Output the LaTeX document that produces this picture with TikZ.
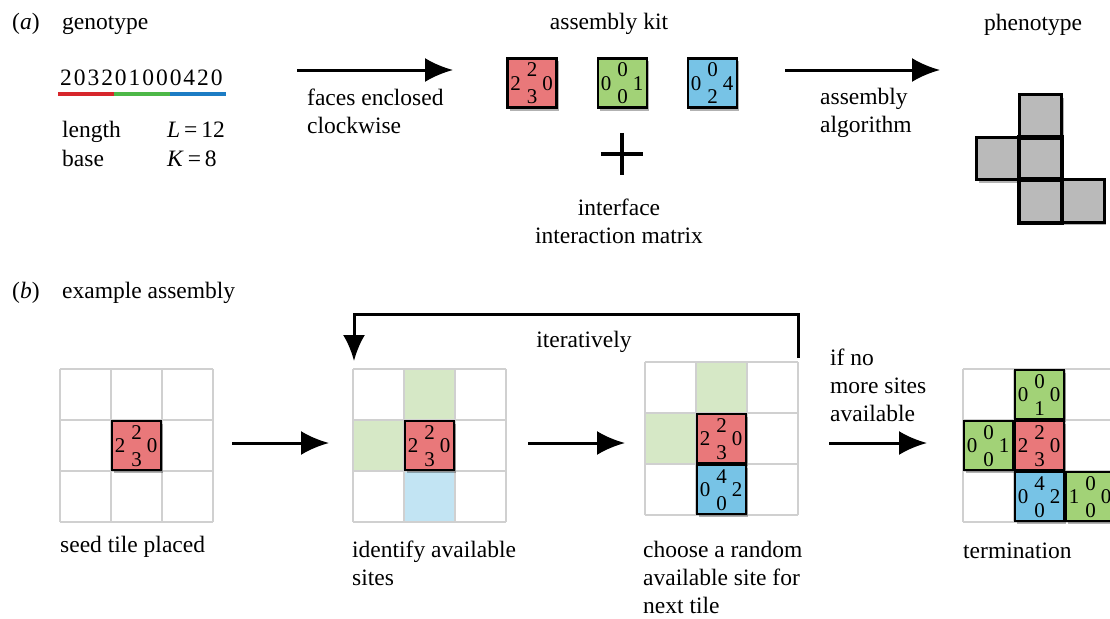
\documentclass[tikz,border=0pt]{standalone}
\usepackage{fontspec}
\setmainfont{Liberation Serif}
\usetikzlibrary{arrows.meta,shadows}
\definecolor{tred}{HTML}{E9787A}
\definecolor{tgreen}{HTML}{A2D277}
\definecolor{tblue}{HTML}{77C3E6}
\definecolor{lgreen}{HTML}{D6E8C6}
\definecolor{lblue}{HTML}{C2E4F3}
\definecolor{gline}{HTML}{D0D0D0}
\definecolor{pgray}{HTML}{BABABA}
\definecolor{lred}{HTML}{D7262B}
\definecolor{lgr}{HTML}{4DB848}
\definecolor{lbl}{HTML}{1C7CC4}
\newcommand\ml[1]{\begin{tabular}[t]{@{}l@{}}#1\end{tabular}}
\newcommand\mlc[1]{\begin{tabular}[t]{@{}c@{}}#1\end{tabular}}
\newcommand\dgt[1]{\makebox[13.7pt]{#1}}
\tikzset{
  txt/.style={inner sep=0pt, anchor=base west},
  ctxt/.style={inner sep=0pt, anchor=base},
  tilebox/.style={draw=black, line width=2.6pt, minimum size=49pt, inner sep=0pt,
    drop shadow={shadow xshift=2pt, shadow yshift=-3pt, opacity=0.3, fill=black}},
  pcell/.style={draw=black, line width=2.6pt, fill=pgray, minimum size=42.5pt, inner sep=0pt,
    drop shadow={shadow xshift=2pt, shadow yshift=-3pt, opacity=0.3, fill=black}},
  dg/.style={inner sep=0pt, font=\fontsize{21}{21}\selectfont},
  bigarrow/.style={line width=3pt, -{Latex[length=28pt,width=24pt]}},
  gridl/.style={draw=gline, line width=1.5pt},
}
% name, x, y, fill, top, left, right, bottom
\newcommand\tl[8]{%
  \node[tilebox, fill=#4] (#1) at (#2,#3) {};
  \node[dg] (#1-t) at ([yshift=13pt]#1.center) {#5};
  \node[dg] (#1-l) at ([xshift=-16.5pt,yshift=-0.5pt]#1.center) {#6};
  \node[dg] (#1-r) at ([xshift=15.5pt,yshift=-0.5pt]#1.center) {#7};
  \node[dg] (#1-b) at ([yshift=-14pt]#1.center) {#8};
}
\newcommand\gridat[2]{%
  \foreach \i in {0,1,2,3} {
    \draw[gridl] (#1+\i*51,#2) -- (#1+\i*51,#2+153);
    \draw[gridl] (#1,#2+\i*51) -- (#1+153,#2+\i*51);
  }
}
\begin{document}
\begin{tikzpicture}[x=1pt,y=-1pt,font=\fontsize{23.5}{28}\selectfont]
\clip (0,0) rectangle (1110,618);
\fill[white] (0,0) rectangle (1110,618);

% ---------- (a) ----------
\node[txt] (la) at (12,30) {(\textit{a})};
\node[txt] (geno) at (62,30) {genotype};
\node[txt] (digits) at (59,85) {\dgt2\dgt0\dgt3\dgt2\dgt0\dgt1\dgt0\dgt0\dgt0\dgt4\dgt2\dgt0};
\draw[lred, line width=4pt] (58,94) -- (114,94);
\draw[lgr, line width=4pt] (114,94) -- (170,94);
\draw[lbl, line width=4pt] (170,94) -- (226,94);
\node[txt] (len) at (62,137) {length};
\node[txt] (lenv) at (167,137) {\textit{L}\,=\,12};
\node[txt] (bas) at (62,166) {base};
\node[txt] (basv) at (167,166) {\textit{K}\,=\,8};

\coordinate (a1s) at (297,70);
\coordinate (a1e) at (453,70);
\draw[bigarrow] (a1s) -- (a1e);
\node[txt] (fec) at (307,105) {\ml{faces enclosed\\clockwise}};

\node[ctxt] (kit) at (609,30) {assembly kit};
\tl{k1}{532}{83}{tred}{2}{2}{0}{3}
\tl{k2}{622.5}{83}{tgreen}{0}{0}{1}{0}
\tl{k3}{712.5}{83}{tblue}{0}{0}{4}{2}
\node[inner sep=0pt, minimum size=42pt] (plus) at (622,154) {};
\draw[line width=3.5pt] (plus.west) -- (plus.east) (plus.north) -- (plus.south);
\node[ctxt] (iim) at (619,215) {\mlc{interface\\interaction matrix}};

\coordinate (a2s) at (785,70);
\coordinate (a2e) at (940,70);
\draw[bigarrow] (a2s) -- (a2e);
\node[txt] (alg) at (820,104) {\ml{assembly\\algorithm}};

\node[ctxt] (pheno) at (1033,31) {phenotype};
\node[pcell] (p1) at (1040.5,116) {};
\node[pcell] (p2) at (998,158.5) {};
\node[pcell] (p3) at (1040.5,158.5) {};
\node[pcell] (p4) at (1040.5,201) {};
\node[pcell] (p5) at (1083,201) {};
\draw[line width=2.6pt] (p1.south west) -- (p1.south east);
\draw[line width=2.6pt] (p3.north west) rectangle (p3.south east);
\draw[line width=2.6pt] (p4.north west) rectangle (p4.south east);

% ---------- (b) ----------
\node[txt] (lb) at (12,298) {(\textit{b})};
\node[txt] (exa) at (62,298) {example assembly};

% grid 1
\gridat{60}{369}
\tl{g1r}{136.5}{445.5}{tred}{2}{2}{0}{3}
\node[txt] (seed) at (60,552) {seed tile placed};
\coordinate (b1s) at (232,443);
\coordinate (b1e) at (329,443);
\draw[bigarrow] (b1s) -- (b1e);

% grid 2
\fill[lgreen] (404,369) rectangle (455,420);
\fill[lgreen] (353,420) rectangle (404,471);
\fill[lblue] (404,471) rectangle (455,522);
\gridat{353}{369}
\tl{g2r}{429.5}{445.5}{tred}{2}{2}{0}{3}
\node[txt] (ident) at (352,557) {\ml{identify available\\sites}};
\coordinate (b2s) at (528,443);
\coordinate (b2e) at (625,443);
\draw[bigarrow] (b2s) -- (b2e);

% grid 3
\fill[lgreen] (696,362) rectangle (747,413);
\fill[lgreen] (645,413) rectangle (696,464);
\gridat{645}{362}
\tl{g3r}{721.5}{438.5}{tred}{2}{2}{0}{3}
\tl{g3b}{721.5}{489.5}{tblue}{4}{0}{2}{0}
\node[txt] (choose) at (643,557) {\ml{choose a random\\available site for\\next tile}};

% feedback loop
\coordinate (fbs) at (798,358);
\coordinate (fbe) at (354,361);
\draw[line width=3pt, -{Latex[length=26pt,width=22pt]}] (fbs) |- (354,314) -- (fbe);
\node[ctxt] (iter) at (584,347) {iteratively};

\node[txt] (ifno) at (830,365) {\ml{if no\\more sites\\available}};
\coordinate (b3s) at (829,443);
\coordinate (b3e) at (927,443);
\draw[bigarrow] (b3s) -- (b3e);

% grid 4
\gridat{963}{369}
\tl{g4a}{1039.5}{394.5}{tgreen}{0}{0}{0}{1}
\tl{g4b}{988.5}{445.5}{tgreen}{0}{0}{1}{0}
\tl{g4c}{1039.5}{445.5}{tred}{2}{2}{0}{3}
\tl{g4d}{1039.5}{496.5}{tblue}{4}{0}{2}{0}
\tl{g4e}{1090.5}{496.5}{tgreen}{0}{1}{0}{0}
\node[txt] (term) at (963,558) {termination};
\end{tikzpicture}
\end{document}
